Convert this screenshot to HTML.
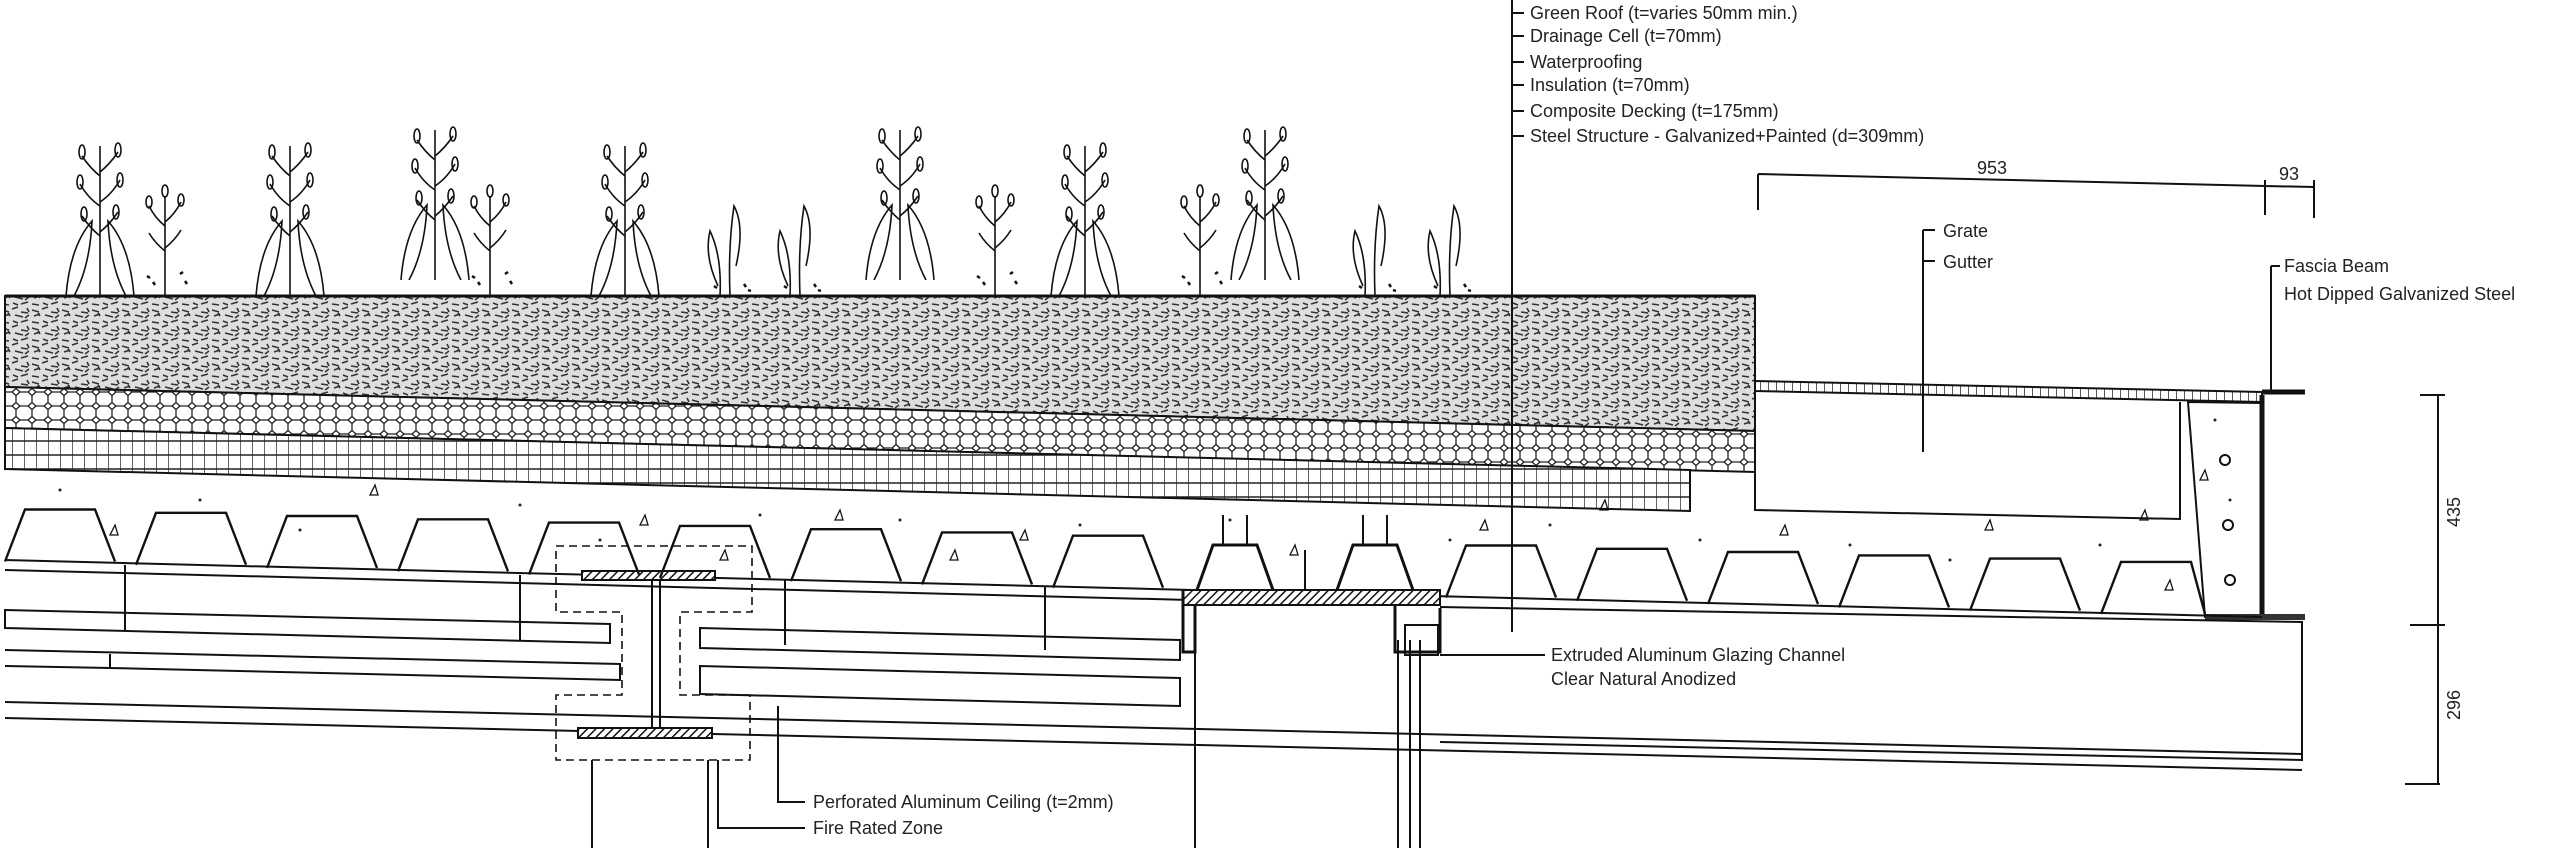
<!DOCTYPE html>
<html><head><meta charset="utf-8"><style>
html,body{margin:0;padding:0;background:#fff;width:2560px;height:848px;overflow:hidden}
svg{display:block}
text{font-family:"Liberation Sans",sans-serif;font-size:18px;fill:#222}
</style></head><body>
<svg width="2560" height="848" viewBox="0 0 2560 848" xmlns="http://www.w3.org/2000/svg">
<defs>
<pattern id="soil" width="30" height="18" patternUnits="userSpaceOnUse">
<rect width="30" height="18" fill="#dedede"/>
<path d="M2 4l7 2M12 3l6-2M21 6l7 1M4 10l6-2M15 9l8 2M25 12l4-3M2 16l7 1M13 15l5 2M21 16l7-2M8 7l2 3M27 2l2 4" stroke="#333" stroke-width="1.6" fill="none"/>
</pattern>
<pattern id="hex" width="16" height="14" patternUnits="userSpaceOnUse">
<rect width="16" height="14" fill="#fff"/>
<path d="M0 3.5L4 0h8l4 3.5M0 3.5v7M16 3.5v7M0 10.5L4 14M16 10.5L12 14M4 14h8" stroke="#222" stroke-width="1.3" fill="none"/>
</pattern>
<pattern id="grid" width="12" height="14" patternUnits="userSpaceOnUse">
<rect width="12" height="14" fill="#fff"/>
<path d="M0 0v14M0 7h12" stroke="#222" stroke-width="1.4"/>
</pattern>
<pattern id="hatch" width="6" height="6" patternUnits="userSpaceOnUse" patternTransform="rotate(45)">
<rect width="6" height="6" fill="#fff"/><path d="M0 0v6" stroke="#111" stroke-width="3"/>
</pattern>
<pattern id="grate" width="8" height="12" patternUnits="userSpaceOnUse">
<rect width="8" height="12" fill="#fff"/><path d="M0 0v12" stroke="#222" stroke-width="1.5"/>
</pattern>
<symbol id="pa" viewBox="0 0 80 160" width="80" height="160">
<g stroke="#111" stroke-width="1.6" fill="none">
<path d="M40 160V10"/>
<path d="M40 40q-10-8-18-20M40 36q10-8 18-20M40 70q-12-8-20-22M40 66q12-8 20-22M40 100q-10-8-18-20M40 96q10-8 18-20"/>
<ellipse cx="22" cy="16" rx="3" ry="7"/><ellipse cx="58" cy="14" rx="3" ry="7"/><ellipse cx="20" cy="46" rx="3" ry="7"/><ellipse cx="60" cy="44" rx="3" ry="7"/><ellipse cx="24" cy="78" rx="3" ry="7"/><ellipse cx="56" cy="76" rx="3" ry="7"/>
<path d="M6 160Q10 110 32 85Q30 130 14 160M74 160Q70 110 48 85Q50 130 66 160"/>
</g></symbol>
<symbol id="pb" viewBox="0 0 80 160" width="80" height="160">
<g stroke="#111" stroke-width="1.6" fill="none">
<path d="M40 160V60"/>
<path d="M40 90q-10-8-16-20M40 86q10-8 16-20M40 115q-10-8-16-18M40 112q10-8 16-18"/>
<ellipse cx="24" cy="66" rx="3" ry="6"/><ellipse cx="56" cy="64" rx="3" ry="6"/><ellipse cx="40" cy="55" rx="3" ry="6"/>
<path d="M22 140l3 2M28 146l2 3M55 138l3-2M60 145l2 3" stroke-width="2.5"/>
</g></symbol>
<symbol id="pc" viewBox="0 0 60 160" width="60" height="160">
<g stroke="#111" stroke-width="1.6" fill="none">
<path d="M30 160Q28 110 34 70Q45 90 36 130M20 160Q22 120 10 95Q4 120 18 150"/>
<path d="M14 150l3 2M44 148l2 3M48 154l3 1" stroke-width="2.5"/>
</g></symbol>
</defs>
<use href="#pa" x="60" y="136"/><use href="#pb" x="125" y="136"/><use href="#pa" x="250" y="136"/>
<use href="#pa" x="395" y="120"/><use href="#pb" x="450" y="136"/><use href="#pa" x="585" y="136"/>
<use href="#pc" x="700" y="136"/><use href="#pc" x="770" y="136"/><use href="#pa" x="860" y="120"/>
<use href="#pb" x="955" y="136"/><use href="#pa" x="1045" y="136"/><use href="#pb" x="1160" y="136"/>
<use href="#pa" x="1225" y="120"/><use href="#pc" x="1345" y="136"/><use href="#pc" x="1420" y="136"/>
<g stroke="#111" stroke-width="2" fill="none">
<path d="M5 296H1755V431L5 387Z" fill="url(#soil)"/>
<path d="M5 387L1755 431V472L5 428Z" fill="url(#hex)"/>
<path d="M5 428L1690 470V511L5 469Z" fill="url(#grid)"/>
<path d="M5 296H1755" stroke-width="3"/>
<path d="M1755 381L2262 392V402L1755 391Z" fill="url(#grate)"/>
<path d="M2262 392H2305" stroke-width="5"/>
<path d="M1755 392V510L2180 519V402"/>
<path d="M2188 402L2262 403V618L2205 617Z"/>
<path d="M2262 395V620" stroke-width="5"/>
<path d="M2205 617H2305" stroke-width="6" stroke="#333"/>
<circle cx="2225" cy="460" r="5"/><circle cx="2228" cy="525" r="5"/><circle cx="2230" cy="580" r="5"/>
<path d="M5 560L2262 617"/>
<path d="M5 570L1190 600"/>
<path d="M1440 607L2302 622V760L1440 742"/>
<path d="M5 702L2302 754"/>
<path d="M5 718L2302 770"/>
<path d="M5 610L610 624V643L5 628Z"/>
<path d="M5 650L620 664V680L110 668V654M110 668L5 666"/>
<path d="M700 628L1180 640V660L700 648Z"/>
<path d="M700 666L1180 678V706L700 694Z"/>
<path d="M582 571H715V580H582Z" fill="url(#hatch)"/>
<path d="M578 728H712V738H578Z" fill="url(#hatch)"/>
<path d="M652 580V728M660 580V728"/>
<path stroke-dasharray="8 5" stroke-width="1.6" d="M556 546H752V612H680V695H750V760H556V695H622V612H556Z"/>
<path d="M592 760V848M708 760V848M718 760V828H805M778 706V802H805M1195 640V848"/>
<g stroke-width="2.4">
<path d="M5 561.5L25 509.5H95L115 561.5"/>
<path d="M136 564.8L156 512.8H226L246 564.8"/>
<path d="M267 568L287 516H357L377 568"/>
<path d="M398 571.3L418 519.3H488L508 571.3"/>
<path d="M529 574.6L549 522.6H619L639 574.6"/>
<path d="M660 577.9L680 525.9H750L770 577.9"/>
<path d="M791 581.2L811 529.2H881L901 581.2"/>
<path d="M922 584.4L942 532.4H1012L1032 584.4"/>
<path d="M1053 587.7L1073 535.7H1143L1163 587.7"/>
<path d="M1446 597.5L1466 545.5H1536L1556 597.5"/>
<path d="M1577 600.8L1597 548.8H1667L1687 600.8"/>
<path d="M1708 604L1728 552H1798L1818 604"/>
<path d="M1839 607.4L1859 555.4H1929L1949 607.4"/>
<path d="M1970 610.6L1990 558.6H2060L2080 610.6"/>
<path d="M2101 613.9L2121 561.9H2191L2205 613.9"/>
</g>
<path d="M1197 590L1213 545H1257L1273 590M1337 590L1353 545H1397L1413 590" stroke-width="3"/>
<path d="M1223 545V515M1247 545V515M1363 545V515M1387 545V515M1305 590V550"/>
<path d="M125 565V630M520 575V640M785 580V645M1045 586V650"/>
<path d="M1183 590H1440V605H1183Z" fill="url(#hatch)"/>
<path d="M1183 590V652H1195V605" stroke-width="3"/>
<path d="M1395 605V652H1440V608" stroke-width="3"/>
<path d="M1405 625H1438V655H1405Z"/>
<path d="M1398 640V848M1410 640V848M1420 640V848"/>
<path d="M1440 655H1545"/>
<path d="M1512 0V632"/>
<path d="M1512 13H1524M1512 36H1524M1512 62H1524M1512 85H1524M1512 111H1524M1512 136H1524"/>
<path d="M1758 174L2265 186L2314 187M1758 174V210M2265 180V215M2314 180V218"/>
<path d="M1923 230H1935M1923 261H1935M1923 230V452"/>
<path d="M2271 266H2280M2271 266V392"/>
<path d="M2438 395V784M2420 395H2445M2410 625H2445M2405 784H2440"/>
<g stroke-width="1.3">
<path d="M110 535l5-10l3 10zM370 495l5-10l3 10zM640 525l5-10l3 10zM835 520l5-10l3 10zM1020 540l5-10l3 10zM1290 555l5-10l3 10zM1480 530l5-10l3 10zM1600 510l5-10l3 10zM1780 535l5-10l3 10zM1985 530l5-10l3 10zM2140 520l5-10l3 10zM2165 590l5-10l3 10zM2200 480l5-10l3 10zM720 560l5-10l3 10zM950 560l5-10l3 10z"/>
</g>
</g>
<g fill="#222">
<circle cx="60" cy="490" r="1.5"/><circle cx="200" cy="500" r="1.5"/><circle cx="300" cy="530" r="1.5"/><circle cx="520" cy="505" r="1.5"/><circle cx="600" cy="540" r="1.5"/><circle cx="760" cy="515" r="1.5"/><circle cx="900" cy="520" r="1.5"/><circle cx="1080" cy="525" r="1.5"/><circle cx="1230" cy="520" r="1.5"/><circle cx="1450" cy="540" r="1.5"/><circle cx="1550" cy="525" r="1.5"/><circle cx="1700" cy="540" r="1.5"/><circle cx="1850" cy="545" r="1.5"/><circle cx="1950" cy="560" r="1.5"/><circle cx="2100" cy="545" r="1.5"/><circle cx="2230" cy="500" r="1.5"/><circle cx="2215" cy="420" r="1.5"/>
</g>
<text x="1530" y="19">Green Roof (t=varies 50mm min.)</text>
<text x="1530" y="42">Drainage Cell (t=70mm)</text>
<text x="1530" y="68">Waterproofing</text>
<text x="1530" y="91">Insulation (t=70mm)</text>
<text x="1530" y="117">Composite Decking (t=175mm)</text>
<text x="1530" y="142">Steel Structure - Galvanized+Painted (d=309mm)</text>
<text x="1992" y="174" text-anchor="middle">953</text>
<text x="2289" y="180" text-anchor="middle">93</text>
<text x="1943" y="237">Grate</text>
<text x="1943" y="268">Gutter</text>
<text x="2284" y="272">Fascia Beam</text>
<text x="2284" y="300">Hot Dipped Galvanized Steel</text>
<text transform="translate(2460 512) rotate(-90)" text-anchor="middle">435</text>
<text transform="translate(2460 705) rotate(-90)" text-anchor="middle">296</text>
<text x="1551" y="661">Extruded Aluminum Glazing Channel</text>
<text x="1551" y="685">Clear Natural Anodized</text>
<text x="813" y="808">Perforated Aluminum Ceiling (t=2mm)</text>
<text x="813" y="834">Fire Rated Zone</text>
</svg>
</body></html>
